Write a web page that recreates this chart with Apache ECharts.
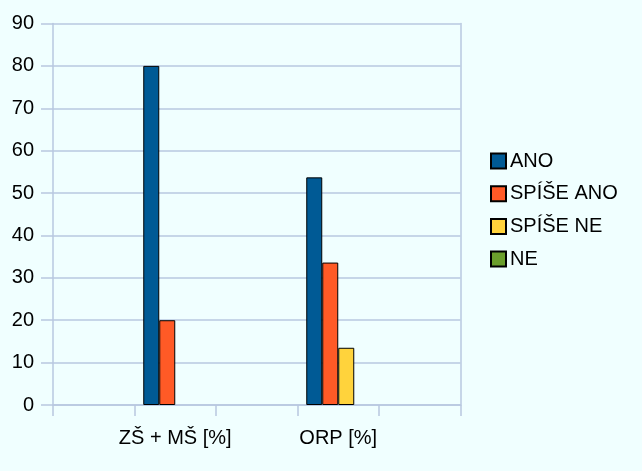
<!DOCTYPE html>
<html>
<head>
<meta charset="utf-8">
<script src="https://cdn.jsdelivr.net/npm/echarts@6/dist/echarts.min.js"></script>
<style>
html,body{margin:0;padding:0;background:#f0ffff;}
#chart{width:642px;height:471px;}
</style>
</head>
<body>
<div id="chart"></div>
<script>
const categories = ["", "ZŠ + MŠ [%]", "", "ORP [%]", ""];
const seriesNames = ["ANO", "SPÍŠE ANO", "SPÍŠE NE", "NE"];
const ano = [null, 80, null, 53.7, null];
const spiseAno = [null, 20, null, 33.6, null];
const spiseNe = [null, null, null, 13.5, null];
const ne = [null, null, null, null, null];
const yTicks = {min: 0, max: 90, interval: 10};

const colors = ["#005a95", "#ff5a26", "#ffd33c", "#6b9f2c"];
const values = [ano, spiseAno, spiseNe, ne];
const lineColor = "#b8c8e0";
const font = "Liberation Sans, Arial, sans-serif";

const chart = echarts.init(document.getElementById('chart'));
chart.setOption({
  backgroundColor: "#f0ffff",
  animation: false,
  grid: {left: 53, right: 181.5, top: 23.5, bottom: 66, containLabel: false},
  legend: {
    orient: 'vertical', left: 485, top: 146,
    itemWidth: 15, itemHeight: 15, itemGap: 12.7, icon: 'rect',
    textStyle: {fontFamily: font, fontSize: 20, color: '#000', lineHeight: 20, padding: [0,0,0,-1]},
    data: seriesNames
  },
  xAxis: {
    type: 'category', data: categories,
    axisLine: {lineStyle: {color: lineColor, width: 1.5}},
    axisTick: {show: true, length: 11, lineStyle: {color: lineColor, width: 1.5}},
    axisLabel: {margin: 23, fontFamily: font, fontSize: 20, color: '#000', interval: 0},
    splitLine: {show: false}
  },
  yAxis: [{
    type: 'value', min: yTicks.min, max: yTicks.max, interval: yTicks.interval,
    axisLine: {show: true, lineStyle: {color: lineColor, width: 1.5}},
    axisTick: {show: true, length: 12, lineStyle: {color: lineColor, width: 1.5}},
    axisLabel: {margin: 19, fontFamily: font, fontSize: 20, color: '#000'},
    splitLine: {show: true, lineStyle: {color: lineColor, width: 1.5}}
  }, {
    type: 'value', position: 'right', min: yTicks.min, max: yTicks.max, interval: yTicks.interval,
    axisLine: {show: true, lineStyle: {color: lineColor, width: 1.5}},
    axisTick: {show: false}, axisLabel: {show: false}, splitLine: {show: false}
  }],
  series: seriesNames.map((n, i) => ({
    name: n, type: 'bar', data: values[i], barWidth: 16, barGap: '0%',
    itemStyle: {color: colors[i], borderColor: '#000', borderWidth: 1}
  }))
});
</script>
</body>
</html>
